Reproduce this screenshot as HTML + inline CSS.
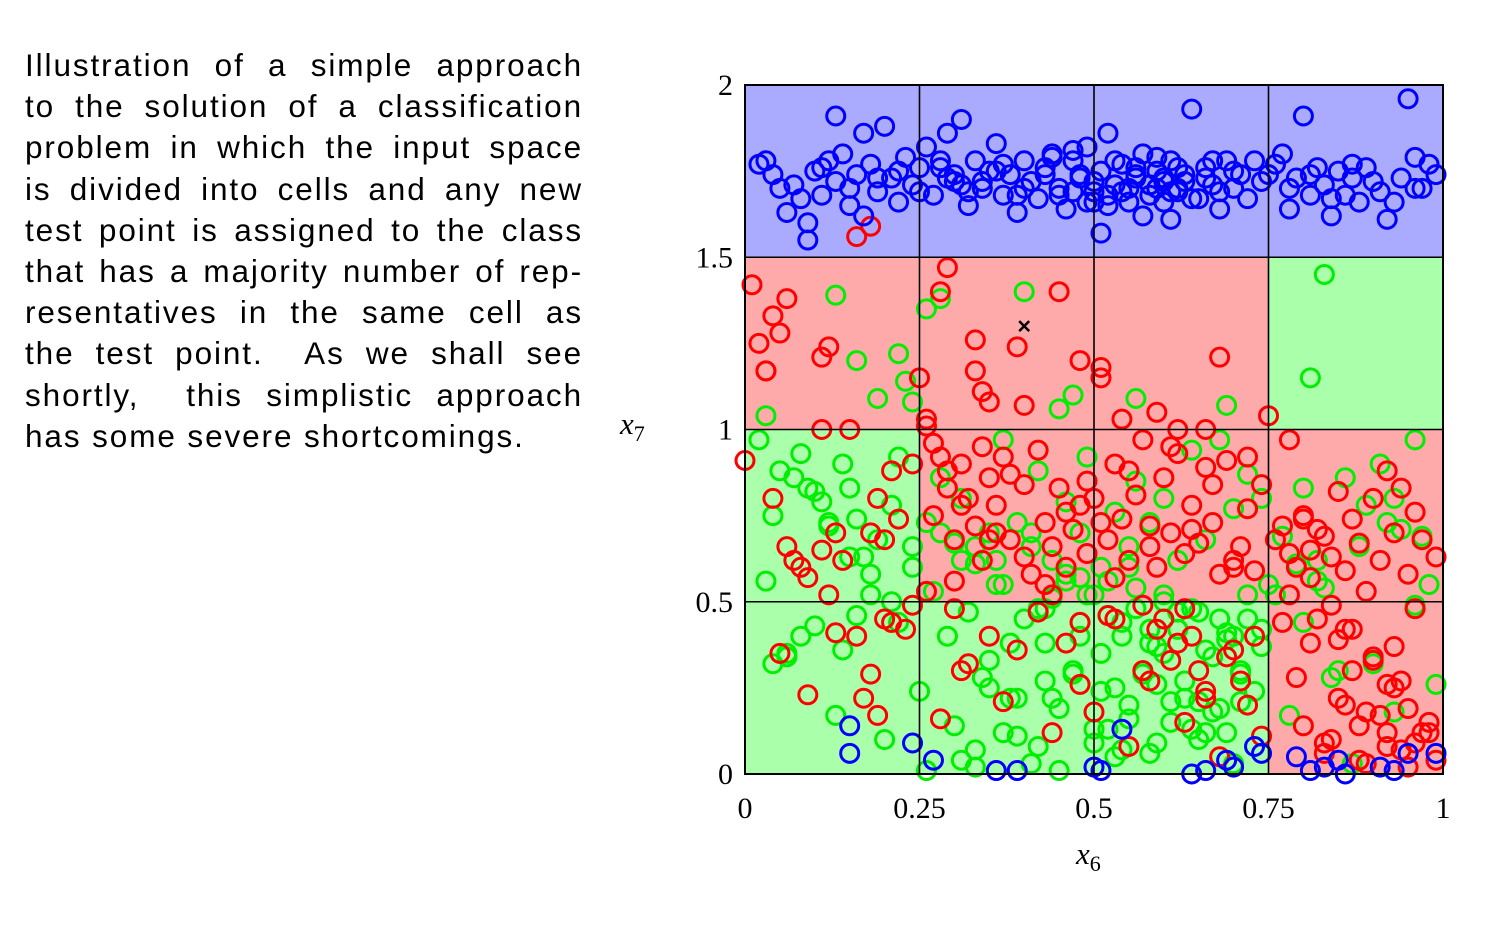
<!DOCTYPE html>
<html><head><meta charset="utf-8"><style>
html,body{margin:0;padding:0;background:#fff;width:1504px;height:946px;overflow:hidden}
#caption{position:absolute;left:25px;top:45px;width:556px;font-family:"Liberation Sans",sans-serif;font-size:31.5px;letter-spacing:1.9px;line-height:41.2px;color:#000}
#caption div{text-align:justify;text-align-last:justify;white-space:nowrap;margin-right:-2px}
#caption div.last{text-align-last:left}
#chart{position:absolute;left:0;top:0}
</style></head><body>
<div id="caption">
<div>Illustration of a simple approach</div>
<div>to the solution of a classification</div>
<div>problem in which the input space</div>
<div>is divided into cells and any new</div>
<div>test point is assigned to the class</div>
<div>that has a majority number of rep-</div>
<div>resentatives in the same cell as</div>
<div>the test point.&nbsp; As we shall see</div>
<div>shortly,&nbsp; this simplistic approach</div>
<div class="last">has some severe shortcomings.</div>
</div>
<svg id="chart" width="1504" height="946"></svg>
<script>
const xTicks=[0,0.25,0.5,0.75,1];
const xTickLabels=["0","0.25","0.5","0.75","1"];
const yTicks=[0,0.5,1,1.5,2];
const yTickLabels=["0","0.5","1","1.5","2"];
const cellClasses=[["g","g","g","r"],["g","r","r","r"],["r","r","r","g"],["b","b","b","b"]];
const blueX=[0.02,0.03,0.05,0.06,0.07,0.08,0.09,0.09,0.10,0.11,0.12,0.13,0.13,0.14,0.15,0.16,0.17,0.17,0.18,0.19,0.20,0.21,0.22,0.23,0.24,0.26,0.27,0.28,0.29,0.30,0.31,0.32,0.33,0.34,0.35,0.36,0.37,0.38,0.39,0.40,0.41,0.42,0.43,0.44,0.45,0.46,0.47,0.48,0.49,0.50,0.51,0.51,0.52,0.53,0.54,0.55,0.56,0.57,0.58,0.59,0.60,0.61,0.61,0.62,0.63,0.64,0.65,0.66,0.67,0.68,0.69,0.70,0.71,0.72,0.74,0.76,0.77,0.78,0.79,0.80,0.81,0.82,0.83,0.84,0.85,0.86,0.87,0.88,0.89,0.91,0.92,0.94,0.95,0.96,0.96,0.98,0.99,0.52,0.58,0.47,0.60,0.62,0.36,0.25,
0.04,0.11,0.15,0.19,0.22,0.25,0.28,0.30,0.32,0.34,0.37,0.40,0.43,0.45,0.47,0.49,0.50,0.52,0.53,0.55,0.56,0.57,0.58,0.59,0.60,0.60,0.61,0.62,0.63,0.64,0.66,0.67,0.68,0.70,0.73,0.75,0.78,0.81,0.84,0.87,0.90,0.93,0.97,0.48,0.50,0.54,0.56,0.59,0.44,0.39,0.29,0.31,
0.15,0.15,0.24,0.27,0.36,0.39,0.50,0.51,0.54,0.64,0.66,0.69,0.70,0.73,0.74,0.79,0.81,0.83,0.86,0.91,0.93,0.95,0.99,0.85];
const blueY=[1.77,1.78,1.70,1.63,1.71,1.67,1.60,1.55,1.75,1.68,1.78,1.91,1.72,1.80,1.65,1.74,1.86,1.62,1.77,1.69,1.88,1.73,1.66,1.79,1.71,1.82,1.68,1.76,1.86,1.72,1.90,1.65,1.78,1.70,1.75,1.83,1.68,1.74,1.63,1.78,1.72,1.67,1.76,1.80,1.70,1.64,1.78,1.73,1.82,1.69,1.75,1.57,1.86,1.71,1.77,1.66,1.73,1.80,1.68,1.75,1.72,1.61,1.78,1.70,1.74,1.93,1.67,1.76,1.71,1.64,1.78,1.70,1.74,1.67,1.72,1.77,1.80,1.64,1.73,1.91,1.68,1.76,1.71,1.62,1.75,1.68,1.73,1.66,1.76,1.69,1.61,1.73,1.96,1.79,1.70,1.77,1.74,1.68,1.71,1.69,1.73,1.69,1.75,1.76,
1.74,1.76,1.70,1.73,1.75,1.69,1.78,1.74,1.69,1.72,1.77,1.70,1.74,1.68,1.81,1.66,1.72,1.65,1.78,1.70,1.76,1.62,1.71,1.79,1.66,1.73,1.69,1.76,1.72,1.67,1.73,1.78,1.69,1.75,1.78,1.74,1.70,1.74,1.67,1.77,1.72,1.66,1.70,1.74,1.66,1.69,1.74,1.70,1.79,1.68,1.73,1.71,
0.14,0.06,0.09,0.04,0.01,0.01,0.02,0.01,0.13,0.00,0.01,0.04,0.02,0.08,0.06,0.05,0.01,0.02,0.00,0.02,0.01,0.06,0.06,0.04];
const redX=[0.01,0.02,0.03,0.04,0.05,0.06,0.11,0.12,0.11,0.15,0.25,0.26,0.28,0.29,0.33,0.33,0.34,0.35,0.39,0.40,0.45,0.48,0.51,0.51,0.54,0.59,0.68,0.75,0.66,0.62,0.16,0.18,0.03,
0.00,0.04,0.06,0.08,0.09,0.11,0.13,0.14,0.18,0.19,0.20,0.21,0.22,0.24,0.26,0.27,0.28,0.29,0.30,0.31,0.32,0.33,0.34,0.35,0.36,0.37,0.38,0.40,0.41,0.43,0.44,0.45,0.46,0.47,0.48,0.49,0.50,0.52,0.53,0.54,0.55,0.56,0.57,0.58,0.59,0.60,0.61,0.62,0.63,0.64,0.65,0.66,0.67,0.68,0.69,0.70,0.71,0.72,0.73,0.74,0.76,0.77,0.78,0.79,0.80,0.81,0.82,0.83,0.84,0.85,0.86,0.87,0.88,0.89,0.90,0.91,0.92,0.93,0.94,0.95,0.96,0.97,0.99,
0.05,0.09,0.13,0.17,0.19,0.20,0.23,0.28,0.30,0.32,0.35,0.37,0.39,0.42,0.44,0.46,0.48,0.50,0.53,0.55,0.57,0.59,0.61,0.63,0.64,0.66,0.68,0.70,0.72,0.74,0.77,0.79,0.81,0.83,0.85,0.86,0.88,0.90,0.92,0.94,0.95,0.97,0.99,0.63,0.66,0.58,0.52,0.43,0.31,0.26,0.88,0.91,0.84,0.93,
0.27,0.29,0.31,0.34,0.36,0.38,0.42,0.46,0.49,0.51,0.55,0.58,0.61,0.64,0.67,0.70,0.72,0.78,0.80,0.82,0.85,0.87,0.89,0.92,0.94,0.96,0.98,0.78,0.81,0.84,0.87,0.90,0.93,0.96,0.80,0.83,0.86,0.89,0.92,0.95,0.98,0.60,0.62,0.65,0.69,0.71,0.73,0.57,0.53,0.48,0.44,0.40,0.35,0.12,0.16,0.21,0.07,0.18,0.24,0.30];
const redY=[1.42,1.25,1.17,1.33,1.28,1.38,1.21,1.24,1.00,1.00,1.15,1.03,1.40,1.47,1.26,1.17,1.11,1.08,1.24,1.07,1.40,1.20,1.18,1.15,1.03,1.05,1.21,1.04,1.00,1.00,1.56,1.59,1.17,
0.91,0.80,0.66,0.60,0.57,0.65,0.70,0.62,0.70,0.80,0.68,0.88,0.74,0.90,1.01,0.75,0.92,0.83,0.68,0.90,0.80,0.72,0.62,0.86,0.78,0.92,0.68,0.84,0.58,0.73,0.66,0.83,0.60,0.71,0.78,0.64,0.80,0.68,0.90,0.74,0.62,0.81,0.97,0.72,0.60,0.86,0.70,0.93,0.64,0.78,0.67,0.89,0.73,0.58,0.91,0.62,0.66,0.77,0.59,0.84,0.68,0.72,0.97,0.60,0.75,0.65,0.71,0.69,0.63,0.82,0.59,0.74,0.67,0.53,0.80,0.62,0.88,0.70,0.83,0.58,0.76,0.68,0.63,
0.35,0.23,0.41,0.22,0.17,0.45,0.42,0.16,0.48,0.32,0.40,0.21,0.36,0.47,0.12,0.38,0.26,0.18,0.45,0.08,0.30,0.42,0.33,0.15,0.40,0.24,0.05,0.36,0.20,0.11,0.44,0.28,0.38,0.09,0.22,0.42,0.14,0.33,0.26,0.07,0.19,0.12,0.04,0.48,0.22,0.27,0.46,0.55,0.30,0.53,0.04,0.17,0.10,0.37,
0.96,0.88,0.78,0.95,0.70,0.87,0.94,0.76,0.85,0.73,0.88,0.66,0.95,0.71,0.84,0.60,0.92,0.52,0.74,0.45,0.39,0.30,0.18,0.12,0.27,0.09,0.15,0.64,0.57,0.49,0.42,0.34,0.25,0.48,0.14,0.06,0.20,0.03,0.08,0.02,0.12,0.45,0.38,0.30,0.34,0.27,0.40,0.49,0.57,0.44,0.52,0.63,0.68,0.52,0.40,0.44,0.62,0.29,0.49,0.56];
const greenX=[0.13,0.16,0.19,0.22,0.23,0.24,0.26,0.28,0.40,0.45,0.47,0.56,0.69,0.83,0.81,0.03,
0.02,0.04,0.05,0.07,0.08,0.10,0.11,0.12,0.14,0.15,0.16,0.17,0.19,0.21,0.22,0.24,0.26,0.28,0.30,0.31,0.33,0.35,0.37,0.39,0.41,0.42,0.44,0.46,0.48,0.49,0.51,0.53,0.55,0.56,0.58,0.60,0.62,0.64,0.66,0.68,0.70,0.72,0.74,0.77,0.80,0.82,0.86,0.89,0.91,0.94,0.96,
0.03,0.04,0.06,0.08,0.10,0.13,0.14,0.16,0.18,0.20,0.22,0.25,0.27,0.29,0.30,0.32,0.33,0.35,0.36,0.38,0.40,0.41,0.43,0.44,0.45,0.47,0.48,0.50,0.51,0.52,0.53,0.54,0.55,0.56,0.57,0.58,0.59,0.60,0.61,0.62,0.63,0.64,0.65,0.67,0.68,0.69,0.70,0.71,0.72,0.73,0.74,0.76,0.78,0.80,0.82,0.84,0.87,0.90,0.93,0.96,0.99,
0.31,0.34,0.37,0.42,0.46,0.49,0.52,0.55,0.57,0.60,0.62,0.65,0.69,0.71,0.75,0.39,0.44,0.48,0.53,0.58,0.66,0.26,0.33,0.45,0.59,
0.06,0.09,0.12,0.15,0.18,0.21,0.24,0.28,0.33,0.36,0.38,0.41,0.43,0.46,0.48,0.50,0.52,0.54,0.56,0.58,0.60,0.62,0.64,0.66,0.68,0.70,0.72,0.74,0.35,0.39,0.43,0.47,0.51,0.55,0.59,0.63,0.67,0.71,0.31,0.37,0.42,0.50,0.54,0.61,0.65,0.69,0.79,0.83,0.88,0.92,0.97,0.98,0.85,0.93];
const greenY=[1.39,1.20,1.09,1.22,1.14,1.08,1.35,1.38,1.40,1.06,1.10,1.09,1.07,1.45,1.15,1.04,
0.97,0.75,0.88,0.86,0.93,0.82,0.79,0.72,0.90,0.83,0.74,0.63,0.68,0.78,0.92,0.66,0.73,0.86,0.67,0.80,0.61,0.70,0.97,0.73,0.66,0.88,0.62,0.79,0.70,0.92,0.60,0.76,0.66,0.85,0.73,0.80,0.62,0.94,0.68,0.97,0.77,0.87,0.80,0.69,0.83,0.62,0.86,0.78,0.90,0.71,0.97,
0.56,0.32,0.35,0.40,0.43,0.17,0.36,0.46,0.52,0.10,0.44,0.24,0.53,0.40,0.14,0.47,0.07,0.33,0.55,0.22,0.45,0.03,0.38,0.51,0.19,0.29,0.44,0.09,0.35,0.56,0.25,0.40,0.16,0.48,0.30,0.06,0.37,0.52,0.21,0.42,0.27,0.13,0.47,0.34,0.19,0.41,0.03,0.29,0.45,0.24,0.37,0.52,0.17,0.44,0.56,0.28,0.03,0.32,0.18,0.49,0.26,
0.62,0.28,0.55,0.48,0.58,0.52,0.13,0.60,0.29,0.35,0.47,0.21,0.39,0.30,0.55,0.11,0.22,0.57,0.05,0.42,0.12,0.01,0.02,0.01,0.09,
0.34,0.83,0.73,0.63,0.58,0.50,0.60,0.70,0.66,0.62,0.38,0.70,0.48,0.56,0.40,0.52,0.46,0.44,0.54,0.38,0.50,0.42,0.48,0.36,0.45,0.40,0.52,0.42,0.25,0.22,0.27,0.30,0.24,0.20,0.26,0.22,0.18,0.21,0.04,0.12,0.08,0.13,0.07,0.15,0.10,0.12,0.61,0.54,0.66,0.73,0.69,0.55,0.30,0.80];
const crossX=[0.40], crossY=[1.30];

const NS="http://www.w3.org/2000/svg";
const svg=document.getElementById('chart');
const L=745,R=1443,T=85,B=774;
const sx=v=>L+(R-L)*v;
const sy=v=>B-(B-T)*(v/2);
function mk(tag,attrs,parent){const e=document.createElementNS(NS,tag);for(const k in attrs)e.setAttribute(k,attrs[k]);(parent||svg).appendChild(e);return e;}
const fills={b:"#aaaaff",r:"#ffaaaa",g:"#aaffaa"};
const bg=mk('g',{});


cellClasses.forEach((row,ri)=>row.forEach((c,ci)=>{
  const r=mk('rect',{x:sx(ci*0.25),y:sy((ri+1)*0.5),width:sx((ci+1)*0.25)-sx(ci*0.25),height:sy(ri*0.5)-sy((ri+1)*0.5),fill:fills[c]},bg);
  
  
}));
const pts=mk('g',{fill:'none','stroke-width':3});


function series(xs,ys,col,name){
  const g=mk('g',{stroke:col},pts);
  
  
  xs.forEach((x,i)=>{const c=mk('circle',{cx:sx(x),cy:sy(ys[i]),r:9},g);
    
    });
}
series(greenX,greenY,'#00ee00','green-class-points');
series(redX,redY,'#ff0000','red-class-points');
series(blueX,blueY,'#0000ff','blue-class-points');
crossX.forEach((x,i)=>{const g=mk('g',{stroke:'#000','stroke-width':2.5});
  
  
  const cx=sx(x),cy=sy(crossY[i]);
  mk('line',{x1:cx-5,y1:cy-5,x2:cx+5,y2:cy+5},g);mk('line',{x1:cx-5,y1:cy+5,x2:cx+5,y2:cy-5},g);});
const grid=mk('g',{stroke:'#000','stroke-width':1.6});


[0.25,0.5,0.75].forEach(v=>mk('line',{x1:sx(v),x2:sx(v),y1:T,y2:B},grid));
[0.5,1,1.5].forEach(v=>mk('line',{x1:L,x2:R,y1:sy(v),y2:sy(v)},grid));
const fr=mk('rect',{x:L,y:T,width:R-L,height:B-T,fill:'none',stroke:'#000','stroke-width':2});


const tf='font-family:"Liberation Serif",serif;font-size:30px';
xTicks.forEach((v,i)=>{const t=mk('text',{x:sx(v),y:818,'text-anchor':'middle',style:tf});t.textContent=xTickLabels[i];
  
  });
yTicks.forEach((v,i)=>{const t=mk('text',{x:733,y:sy(v)+10,'text-anchor':'end',style:tf});t.textContent=yTickLabels[i];
  
  });
const xl=mk('text',{x:1076,y:864,style:'font-family:"Liberation Serif",serif;font-size:31px;font-style:italic'});
xl.innerHTML='x<tspan dy="7" font-size="22" font-style="normal">6</tspan>';


const yl=mk('text',{x:620,y:434,style:'font-family:"Liberation Serif",serif;font-size:31px;font-style:italic'});
yl.innerHTML='x<tspan dy="7" font-size="22" font-style="normal">7</tspan>';


</script>
</body></html>
